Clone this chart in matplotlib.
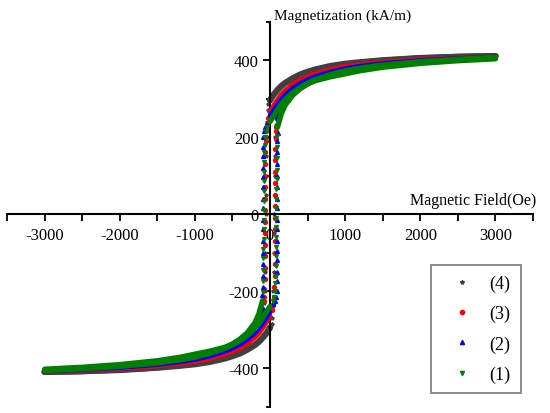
import matplotlib
matplotlib.use('Agg')
import numpy as np
import matplotlib.pyplot as plt
from matplotlib.lines import Line2D

plt.rcParams['font.family'] = ['Liberation Serif', 'DejaVu Serif']
plt.rcParams['axes.unicode_minus'] = False

# descending branch (+3000 -> -3000); ascending branch is its mirror
labels = ['(4)', '(3)', '(2)', '(1)']
colors = ['#404040', 'red', 'blue', 'green']
markers = ['*', 'o', '^', 'v']
widths = [4.6, 3.6, 3.4, 3.8]

# upper part of descending branch
top_h = [3000, 2500, 2000, 1500, 1200, 1000, 800, 600, 500, 400, 300, 200, 150, 100, 50, 0]
top_m = [
    [410, 408, 405, 399, 394, 390, 384, 375, 369, 362, 352, 340, 332, 322, 310, 295],
    [408, 405, 401, 394, 388, 383, 375, 364, 357, 348, 336, 320, 310, 296, 282, 265],
    [408, 404, 399, 391, 384, 378, 369, 357, 349, 339, 326, 309, 298, 285, 270, 255],
    [407, 402, 396, 387, 379, 372, 362, 349, 340, 329, 315, 297, 285, 271, 255, 240],
]
# steep switching part (sparse points)
sw_h = [
    [-20, -30, -40, -45, -48, -52, -55, -58, -60, -63, -66, -70, -75, -80],
    [-30, -45, -55, -58, -60, -61, -62, -63, -64, -65, -66, -67, -68, -69, -70, -72, -74, -77, -80],
    [-40, -60, -75, -88, -89, -90, -90, -91, -90, -91, -92, -92, -93, -93, -94, -95, -95, -97, -100],
    [-40, -55, -65, -70, -74, -77, -79, -80, -81, -82, -83, -84, -85, -86, -88, -90, -92, -95, -98],
]
sw_m = [
    [285, 270, 240, 200, 150, 100, 50, 0, -50, -100, -150, -200, -230, -250],
    [250, 235, 215, 190, 160, 130, 100, 70, 40, 10, -20, -50, -80, -110, -140, -170, -195, -215, -225],
    [235, 225, 215, 200, 175, 150, 120, 95, 70, 40, 15, -15, -40, -70, -100, -130, -160, -190, -210],
    [225, 215, 200, 180, 160, 135, 110, 85, 60, 35, 10, -15, -40, -65, -90, -115, -145, -175, -203],
]
# lower part of descending branch
bot_h = [-100, -150, -200, -300, -400, -500, -600, -800, -1000, -1200, -1500, -2000, -2500, -3000]
bot_m = [
    [-275, -300, -315, -333, -347, -357, -365, -377, -386, -392, -398, -404, -408, -410],
    [-255, -285, -300, -320, -335, -346, -355, -368, -377, -384, -391, -399, -404, -407],
    [-245, -265, -285, -310, -325, -337, -347, -360, -370, -378, -386, -395, -401, -405],
    [-225, -260, -282, -308, -325, -338, -346, -356, -364, -372, -381, -391, -398, -403],
]

fig = plt.figure(figsize=(5.5, 4.14), dpi=100)
ax = fig.add_axes([7/550, 1-407.5/414, 526/550, 385/414])

for i in range(4):
    c = colors[i]
    for s in (1, -1):
        th = s*np.array(top_h); tm = s*np.array(top_m[i])
        bh = s*np.array(bot_h); bm = s*np.array(bot_m[i])
        ax.plot(th, tm, '-', color=c, lw=widths[i], solid_capstyle='round', zorder=2+i)
        ax.plot(bh, bm, '-', color=c, lw=widths[i], solid_capstyle='round', zorder=2+i)
        ax.plot(s*np.array(sw_h[i]), s*np.array(sw_m[i]), linestyle='none',
                marker=markers[i], ms=2.8, color=c, zorder=2+i)

ax.set_xlim(-3500, 3500)
ax.set_ylim(-500, 500)
for side in ['top', 'right']:
    ax.spines[side].set_visible(False)
ax.spines['left'].set_position(('data', 0))
ax.spines['bottom'].set_position(('data', 0))
ax.spines['left'].set_linewidth(1.5)
ax.spines['bottom'].set_linewidth(1.5)

ax.set_xticks([-3000, -2000, -1000, 0, 1000, 2000, 3000])
ax.set_xticks(np.arange(-3500, 3501, 500), minor=True)
ax.set_yticks([-400, -200, 0, 200, 400])
ax.set_yticks(np.arange(-500, 501, 100), minor=True)
ax.tick_params(axis='both', which='major', direction='out', length=5, width=1.3, labelsize=12)
ax.tick_params(axis='x', which='minor', direction='out', length=5, width=1.3)
ax.tick_params(axis='y', which='minor', direction='out', length=3, width=1.3)
ax.tick_params(axis='x', pad=4)
ax.tick_params(axis='y', pad=3)

ax.text(3540, 15, 'Magnetic Field(Oe)', ha='right', va='bottom', fontsize=11.5)
ax.text(50, 515, 'Magnetization (kA/m)', ha='left', va='center', fontsize=11, clip_on=False)

handles = [Line2D([], [], linestyle='none', marker=markers[i], ms=3, color=colors[i])
           for i in range(4)]
leg = ax.legend(handles, labels, loc='lower left', bbox_to_anchor=(431/550, 1-394/414),
                bbox_transform=fig.transFigure, fontsize=13, frameon=True, fancybox=False,
                labelspacing=0.72, handletextpad=0.4, borderpad=0.55, handlelength=2.3,
                borderaxespad=0)
leg.get_frame().set_edgecolor('#555555')
leg.get_frame().set_linewidth(1.2)

fig.savefig('out.png', dpi=100)
